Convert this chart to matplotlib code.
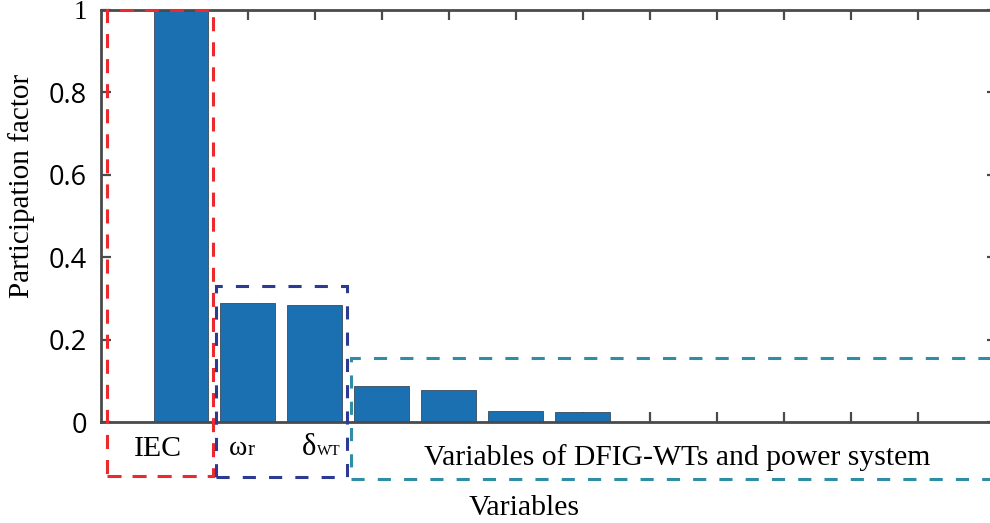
import numpy as np
import matplotlib
matplotlib.use('Agg')
import matplotlib.pyplot as plt
from matplotlib.patches import Rectangle

# participation factors
pf = [1.0, 0.29, 0.283, 0.087, 0.079, 0.027, 0.024]
pos = np.arange(1, len(pf) + 1)
xticks = np.arange(1, 13)
yticks = [0, 0.2, 0.4, 0.6, 0.8, 1]
ytick_labels = ['0', '0.2', '0.4', '0.6', '0.8', '1']

# dashed group boxes: x0, x1, y0, y1, colour, dash pattern
boxes = [
    (-0.104, 1.478, -0.130, 1.0, '#ec2a2e', (4.6, 3.6)),
    (1.522, 3.478, -0.133, 0.330, '#2c3a92', (4.3, 4.3)),
    (3.537, 13.5, -0.138, 0.156, '#2f8ea6', (4.3, 4.3)),
]
serif = 'Liberation Serif'

fig = plt.figure(figsize=(9.9, 5.23), dpi=100)
ax = fig.add_axes([0.102, 0.193, 0.905, 0.788])

ax.bar(pos, pf, width=0.82, color='#1b70b2', edgecolor='#3a4a5a', linewidth=0.6, zorder=2)

ax.set_xlim(-0.194, 13.18)
ax.set_ylim(0, 1)
ax.set_axisbelow(True)
ax.set_xticks(xticks)
ax.set_xticklabels([])
ax.set_yticks(yticks)
ax.set_yticklabels(ytick_labels, fontsize=19.5, family='Open Sans')
ax.get_yticklabels()[-1].set_family(serif)
ax.tick_params(direction='in', length=7, width=1.6, color='#4a4a4a',
               top=True, right=True, pad=10)
for s in ax.spines.values():
    s.set_linewidth(2.0)
    s.set_color('#4a4a4a')

ax.set_ylabel('Participation factor', fontsize=21, family=serif)
ax.yaxis.set_label_coords(-0.074, 0.573)

for x0, x1, y0, y1, col, dash in boxes:
    ax.add_patch(Rectangle((x0, y0), x1 - x0, y1 - y0, fill=False, edgecolor=col,
                           linewidth=2.2, linestyle=(0, dash), clip_on=False, zorder=5))

ax.text(0.65, -0.0825, 'IEC', ha='center', va='baseline', fontsize=21.5, family=serif)
ax.text(1.985, -0.080, '\u03c9', ha='right', va='baseline', fontsize=20, family=serif)
ax.text(1.995, -0.080, 'r', ha='left', va='baseline', fontsize=15, family=serif)
ax.text(3.015, -0.080, '\u03b4', ha='right', va='baseline', fontsize=22, family=serif)
ax.text(3.03, -0.080, 'WT', ha='left', va='baseline', fontsize=11, family=serif)
ax.text(8.40, -0.104, 'Variables of DFIG-WTs and power system', ha='center',
        va='baseline', fontsize=21.3, family=serif)
ax.text(6.13, -0.226, 'Variables', ha='center', va='baseline', fontsize=21.5, family=serif)

fig.savefig('out.png', dpi=100)
